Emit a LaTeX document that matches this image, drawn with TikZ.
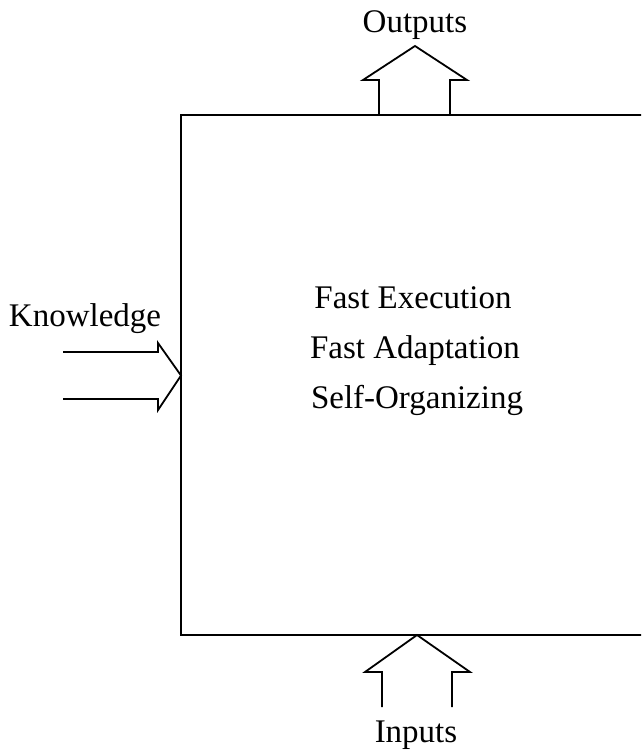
\documentclass[tikz,border=0pt]{standalone}
\usepackage{fontspec}
\setmainfont{Liberation Serif}
\begin{document}
\begin{tikzpicture}[x=1pt, y=-1pt, line join=miter,
  frame/.style={line width=2pt},
  blockarrow/.style={line width=1.8pt},
  lbl/.style={font=\fontsize{33}{39}\selectfont, inner sep=0pt, anchor=base}]
\useasboundingbox (0,0) rectangle (641,750);
\clip (0,0) rectangle (641,750);

% system box, open towards the right
\coordinate (tl) at (181,115);
\coordinate (bl) at (181,635);
\coordinate (tr) at (680,115);
\coordinate (br) at (680,635);
\draw[frame] (tr) -- (tl) -- (bl) -- (br);

% arrow tips on the box
\coordinate (outtip) at (415,46);
\coordinate (intip)  at (417,635);
\coordinate (kntip)  at (181,375.5);

% outputs arrow leaving the top edge
\draw[blockarrow] (379,115) -- (379,80) -- (363,80) -- (outtip)
  -- (467,80) -- (450,80) -- (450,115);

% inputs arrow entering the bottom edge
\draw[blockarrow] (382,707) -- (382,672) -- (365,672) -- (intip)
  -- (470,672) -- (452,672) -- (452,707);

% knowledge arrow entering the left edge
\draw[blockarrow] (63,352) -- (158,352) -- (158,343) -- (kntip)
  -- (158,410) -- (158,399) -- (63,399);

% labels
\node[lbl] (outputs)   at (415,32)  {Outputs};
\node[lbl] (inputs)    at (416,742) {Inputs};
\node[lbl] (knowledge) at (85,326)  {Knowledge};
\node[lbl] (exec)      at (413,308) {Fast Execution};
\node[lbl] (adapt)     at (415,358) {Fast Adaptation};
\node[lbl] (selforg)   at (417,408) {Self-Organizing};
\end{tikzpicture}
\end{document}
